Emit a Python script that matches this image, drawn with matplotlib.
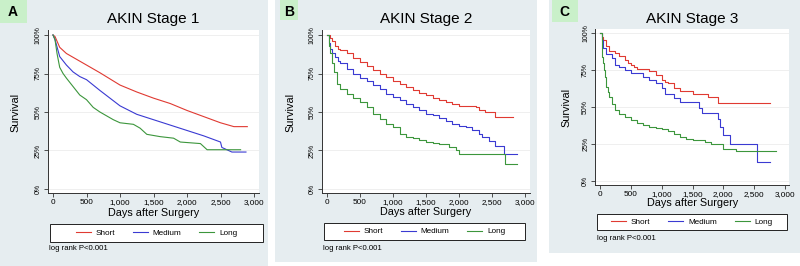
import matplotlib.pyplot as plt
from matplotlib.patches import Rectangle
import numpy as np

plt.rcParams['font.family'] = ['Liberation Sans', 'DejaVu Sans']

# ---- data (days after surgery, survival %) ----
a_short_days = [0, 30, 100, 200, 300, 500, 700, 1000, 1250, 1500, 1750, 2000, 2250, 2500, 2700, 2900]
a_short = [100, 99, 92, 88, 85.5, 80.5, 75.5, 67.5, 63, 59, 55.5, 51, 47, 43, 40.5, 40.5]
a_med_days = [0, 30, 100, 200, 300, 400, 500, 700, 1000, 1250, 1500, 1750, 2000, 2250, 2500, 2520, 2670, 2880]
a_med = [100, 97, 86, 80.5, 76, 73, 71, 64, 54, 48.5, 45, 41.5, 38, 34.5, 30.5, 27, 24, 24]
a_long_days = [0, 30, 60, 100, 150, 200, 300, 400, 500, 600, 700, 800, 900, 1000, 1200, 1300, 1400,
               1600, 1800, 1900, 2200, 2250, 2300, 2800]
a_long = [100, 97, 88, 79, 75, 72, 66.5, 61, 58, 53, 50, 47.5, 45, 43, 42, 39.5, 35.5,
          34, 33, 30.5, 29.5, 27.5, 25.5, 25.5]

b_short_days = [0, 40, 80, 120, 160, 200, 300, 400, 500, 600, 700, 800, 900, 1000, 1100, 1200, 1300,
                1400, 1500, 1600, 1700, 1800, 1900, 2000, 2250, 2300, 2400, 2550, 2820]
b_short = [100, 98, 96, 93, 91, 90, 88, 85, 82.5, 80, 77, 74.5, 72.5, 70, 68, 66, 64.5,
           62.5, 61, 59, 58, 56.5, 55, 54, 53.5, 51, 50, 46.5, 46.5]
b_med_days = [0, 30, 50, 80, 120, 160, 200, 300, 400, 500, 600, 700, 800, 900, 1000, 1100, 1200,
              1300, 1400, 1500, 1600, 1700, 1800, 1900, 2000, 2100, 2200, 2300, 2350, 2450, 2550,
              2680, 2880]
b_med = [100, 95, 91, 88.5, 86, 83, 81.5, 78, 75, 72, 70, 67.5, 65, 62, 60, 57.5, 55.5,
         53, 51, 49, 48, 46, 44, 42.5, 41, 40, 38, 36, 34, 31, 28, 22.5, 22.5]
b_long_days = [0, 30, 50, 75, 100, 150, 200, 300, 400, 500, 600, 700, 800, 900, 1000, 1100, 1200,
               1300, 1400, 1500, 1600, 1700, 1850, 1950, 2000, 2700, 2880]
b_long = [100, 93, 88, 82, 76, 68.5, 65, 62, 59, 56.5, 53, 49, 45.5, 42.5, 40.5, 36, 34,
          33, 32, 30.5, 30, 29.5, 27.5, 25.5, 23, 16, 16]

c_short_days = [0, 30, 54, 100, 150, 250, 300, 400, 450, 500, 550, 600, 800, 900, 1000, 1050, 1100,
                1200, 1300, 1500, 1750, 1920, 2750]
c_short = [100, 97, 95.5, 91, 87.5, 86.4, 84.5, 82, 80, 78.5, 77, 75.5, 74.6, 71.7, 68, 67, 66,
           62.6, 61, 59, 57, 53, 53]
c_med_days = [0, 30, 50, 100, 200, 250, 300, 400, 500, 700, 800, 900, 1000, 1050, 1200, 1300, 1600,
              1650, 1920, 1950, 2000, 2100, 2550, 2750]
c_med = [100, 95, 90, 86, 83, 78.5, 77, 75, 73, 70.5, 68, 66.4, 62.6, 59, 56, 53.5, 49,
         46, 42, 36.5, 31, 24.7, 12.7, 12.7]
c_long_days = [0, 25, 40, 50, 60, 75, 100, 125, 150, 200, 250, 300, 400, 500, 600, 700, 800, 900,
               1000, 1100, 1200, 1300, 1400, 1500, 1700, 1800, 2000, 2200, 2850]
c_long = [100, 90, 84, 79.6, 75, 70.5, 63.7, 60, 57, 52, 48, 45.6, 43, 41, 39.5, 38, 36.5, 35.7,
          35, 33.8, 31.5, 29.7, 28.7, 28, 26.3, 24.7, 21.8, 20, 20]

groups = ['Short', 'Medium', 'Long']
colors = ['#e03a32', '#3a3ad2', '#3c963c']
titles = ['AKIN Stage 1', 'AKIN Stage 2', 'AKIN Stage 3']
letters = ['A', 'B', 'C']

W, H = 800, 266
fig = plt.figure(figsize=(8, 2.66), dpi=100)

def fx(x):
    return x / W

def fy(y):
    return 1 - y / H

# layout per panel in pixels
panels = [
    dict(bg=(0, 0, 268, 266), lab=(0, 0, 27, 23), lx=13, x0=53, x3=254, y100=35, y0=189,
         leg=(50, 224, 263, 242), lr=(49, 249), ylx=15, xly=213, style='default',
         data=[(a_short_days, a_short), (a_med_days, a_med), (a_long_days, a_long)]),
    dict(bg=(275, 0, 537, 262), lab=(280, 0, 298, 20), lx=289, x0=327, x3=525, y100=35, y0=189,
         leg=(324, 223, 525, 240), lr=(323, 248), ylx=290, xly=212, style='steps-post',
         data=[(b_short_days, b_short), (b_med_days, b_med), (b_long_days, b_long)]),
    dict(bg=(549, 0, 800, 253), lab=(552, 0, 578, 22), lx=564, x0=600, x3=785, y100=33, y0=181,
         leg=(597, 214, 787, 230), lr=(597, 238), ylx=566, xly=203, style='steps-post',
         data=[(c_short_days, c_short), (c_med_days, c_med), (c_long_days, c_long)]),
]

xlim = (-75, 3070)
ylim = (-0.027, 1.03)

for i, p in enumerate(panels):
    bx0, by0, bx1, by1 = p['bg']
    fig.patches.append(Rectangle((fx(bx0), fy(by1)), fx(bx1 - bx0), (by1 - by0) / H,
                                 transform=fig.transFigure, facecolor='#e6edf0', edgecolor='none', zorder=-3))
    lx0, ly0, lx1, ly1 = p['lab']
    fig.patches.append(Rectangle((fx(lx0), fy(ly1)), fx(lx1 - lx0), (ly1 - ly0) / H,
                                 transform=fig.transFigure, facecolor='#c9f0c9', edgecolor='none', zorder=-2))
    fig.text(fx(p['lx']), fy(12), letters[i], fontsize=10, fontweight='bold', ha='center', va='center')

    # axes rectangle from data -> pixel mapping
    sx = (p['x3'] - p['x0']) / 3000.0
    sy = (p['y0'] - p['y100']) / 1.0
    left = p['x0'] + xlim[0] * sx
    right = p['x0'] + xlim[1] * sx
    bottom = p['y0'] - ylim[0] * sy
    top = p['y0'] - ylim[1] * sy
    ax = fig.add_axes([fx(left), fy(bottom), fx(right - left), (bottom - top) / H])
    ax.set_facecolor('white')
    for (d, s), c in zip(p['data'], colors):
        ax.plot(d, np.array(s) / 100.0, color=c, lw=0.8, drawstyle=p['style'])
    ax.set_xlim(xlim)
    ax.set_ylim(ylim)
    ax.set_xticks(range(0, 3001, 500))
    ax.set_xticklabels(['0', '500', '1,000', '1,500', '2,000', '2,500', '3,000'], fontsize=5.9)
    ax.set_yticks([0, 0.25, 0.5, 0.75, 1.0])
    ax.set_yticklabels(['0%', '25%', '50%', '75%', '100%'], fontsize=5.0, rotation=90, va='center')
    ax.tick_params(length=3, width=0.6, pad=1.5, color='#333333')
    ax.grid(axis='y', color='#ececec', lw=0.6)
    ax.set_axisbelow(True)
    for sp in ['top', 'right']:
        ax.spines[sp].set_visible(False)
    for sp in ['left', 'bottom']:
        ax.spines[sp].set_linewidth(0.7)
        ax.spines[sp].set_color('#333333')

    cx = (p['x0'] + p['x3']) / 2.0
    fig.text(fx(cx), fy(19), titles[i], fontsize=11, ha='center', va='center')
    fig.text(fx(cx), fy(p['xly']), 'Days after Surgery', fontsize=7.8, ha='center', va='center')
    fig.text(fx(p['ylx']), fy((p['y100'] + p['y0']) / 2.0), 'Survival', fontsize=7.8,
             rotation=90, ha='center', va='center')

    gx0, gy0, gx1, gy1 = p['leg']
    fig.patches.append(Rectangle((fx(gx0), fy(gy1)), fx(gx1 - gx0), (gy1 - gy0) / H,
                                 transform=fig.transFigure, facecolor='white', edgecolor='#222222',
                                 lw=0.7, zorder=-1))
    handles = ax.get_lines()
    fig.legend(handles, groups, loc='center', ncol=3, frameon=False, fontsize=5.9,
               bbox_to_anchor=(fx((gx0 + gx1) / 2.0), fy((gy0 + gy1) / 2.0)),
               handlelength=1.8, handletextpad=0.6, columnspacing=2.2, borderpad=0)
    fig.text(fx(p['lr'][0]), fy(p['lr'][1]), 'log rank P<0.001', fontsize=5.6, ha='left', va='center')

fig.savefig('out.png', dpi=100)
